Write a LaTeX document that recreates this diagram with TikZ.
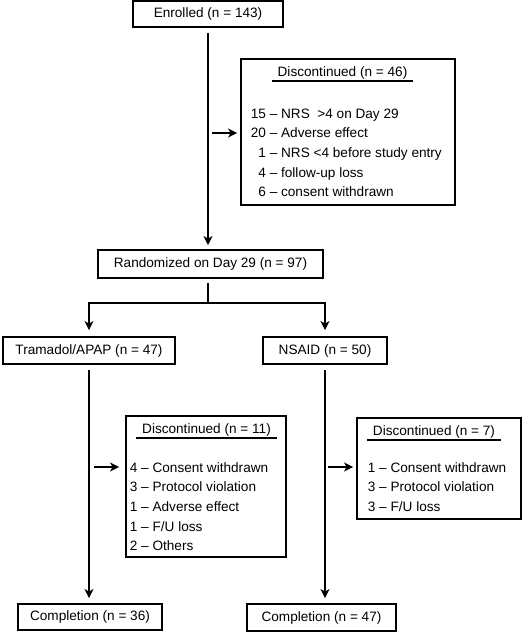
\documentclass[tikz,border=0pt]{standalone}
\usepackage{fontspec}
\setmainfont{Liberation Sans}
\usepackage{tikz}
\usetikzlibrary{arrows.meta, calc, positioning}

\tikzset{
    box/.style={draw, line width=1.8pt, inner sep=0pt, minimum height=27pt},
    title/.style={inner xsep=5pt, inner ysep=1pt},
    reasons/.style={anchor=base west, inner sep=0pt}
}

\begin{document}
\begin{tikzpicture}[x=1pt, y=-1pt, >={Stealth[length=9pt, width=9pt, inset=2.5pt]}, line width=1.8pt, font=\fontsize{13.6}{19.7}\selectfont]
    \useasboundingbox (0,0) rectangle (522,632);
    % main flow
    \node[box, minimum width=150pt, minimum height=26pt] (enrol) at (208,14) {Enrolled (n = 143)};
    \node[box, minimum width=225pt, minimum height=28pt] (rand) at (210.5,264) {Randomized on Day 29 (n = 97)};
    \node[box, minimum width=172pt] (tram) at (89,350.5) {Tramadol/APAP (n = 47)};
    \node[box, minimum width=124pt] (nsaid) at (325,350.5) {NSAID (n = 50)};
    \node[box, minimum width=144pt, minimum height=26pt] (comp1) at (90,617) {Completion (n = 36)};
    \node[box, minimum width=149pt] (comp2) at (321.5,617.5) {Completion (n = 47)};

    % discontinued boxes
    \node[box, minimum width=214pt, minimum height=146pt] (disc46) at (348,132) {};
    \node[title] (t46) at (342.5,73) {Discontinued (n = 46)};
    \draw[line width=1.5pt] (t46.south west) -- (t46.south east);
    \node[reasons] (r46) at (250,118) {\begin{tabular}[t]{@{}r@{\ –\ }l@{}}
        15 & NRS\ \ >4 on Day 29\\
        20 & Adverse effect\\
        1 & NRS <4 before study entry\\
        4 & follow-up loss\\
        6 & consent withdrawn
    \end{tabular}};

    \node[box, minimum width=160pt, minimum height=141pt] (disc11) at (206,486.5) {};
    \node[title] (t11) at (206.5,430) {Discontinued (n = 11)};
    \draw[line width=1.5pt] (t11.south west) -- (t11.south east);
    \node[reasons] (r11) at (129,472) {\begin{tabular}[t]{@{}r@{\ –\ }l@{}}
        4 & Consent withdrawn\\
        3 & Protocol violation\\
        1 & Adverse effect\\
        1 & F/U loss\\
        2 & Others
    \end{tabular}};

    \node[box, minimum width=164pt, minimum height=101pt] (disc7) at (439,468.5) {};
    \node[title] (t7) at (434,432) {Discontinued (n = 7)};
    \draw[line width=1.5pt] (t7.south west) -- (t7.south east);
    \node[reasons] (r7) at (367,472) {\begin{tabular}[t]{@{}r@{\ –\ }l@{}}
        1 & Consent withdrawn\\
        3 & Protocol violation\\
        3 & F/U loss
    \end{tabular}};

    % connectors
    \draw[->, shorten <=5pt, shorten >=4pt] (enrol.south) -- (enrol.south |- rand.north);
    \coordinate (split) at (208,303);
    \draw[shorten <=4pt] (rand.south -| split) -- (split);
    \draw[->, shorten >=6pt] (split) -| (tram.north);
    \draw[->, shorten >=6pt] (split) -| (nsaid.north);
    \draw[->, shorten <=5pt, shorten >=5pt] (tram.south) -- (tram.south |- comp1.north);
    \draw[->, shorten <=5pt, shorten >=5pt] (nsaid.south) -- (nsaid.south |- comp2.north);

    \coordinate (a46) at (212,133);
    \coordinate (a11) at (94,467);
    \coordinate (a7) at (328,467);
    \draw[->, shorten >=3pt] (a46) -- (a46 -| disc46.west);
    \draw[->, shorten >=6pt] (a11) -- (a11 -| disc11.west);
    \draw[->, shorten >=3pt] (a7) -- (a7 -| disc7.west);
\end{tikzpicture}
\end{document}
